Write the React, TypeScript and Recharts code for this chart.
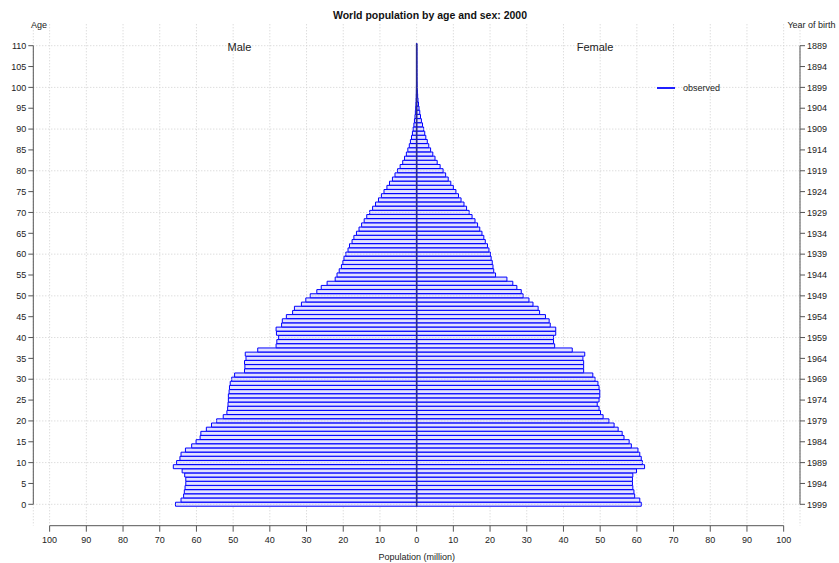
import React from 'react';
import { BarChart, Bar, XAxis, YAxis, CartesianGrid, ReferenceLine, Label } from 'recharts';

// Population in millions, by single year of age (index = age 0..110)
const maleValues = [
  65.7, 64.2, 63.5, 63.3, 63.1, 62.9, 62.9, 63.2, 63.9, 66.3,
  65.4, 64.5, 64.2, 63.0, 61.3, 60.1, 59.0, 58.8, 57.3, 55.9,
  54.5, 52.7, 51.7, 51.5, 51.4, 51.3, 51.3, 51.1, 51.0, 50.8,
  50.4, 49.6, 46.9, 46.8, 46.9, 46.5, 46.7, 43.3, 38.3, 38.1,
  37.6, 38.2, 38.3, 36.8, 36.6, 35.5, 33.8, 33.3, 31.4, 30.2,
  29.0, 27.2, 26.0, 24.4, 22.2, 21.7, 21.1, 20.5, 20.1, 19.8,
  19.3, 18.7, 18.3, 17.6, 17.1, 16.4, 15.7, 15.0, 14.3, 13.6,
  12.8, 12.0, 11.2, 10.4, 9.6, 8.9, 8.1, 7.4, 6.6, 5.9,
  5.2, 4.5, 3.8, 3.3, 2.8, 2.4, 2.0, 1.7, 1.4, 1.15,
  0.95, 0.75, 0.6, 0.45, 0.35, 0.26, 0.19, 0.14, 0.1, 0.07,
  0.05, 0.035, 0.025, 0.018, 0.012, 0.009, 0.006, 0.004, 0.003, 0.002, 0.001,
];

const femaleValues = [
  61.2, 60.8, 59.4, 59.2, 58.9, 58.8, 58.8, 58.9, 59.9, 62.1,
  61.5, 61.2, 60.8, 60.3, 58.5, 57.9, 56.5, 56.0, 54.9, 53.8,
  52.4, 50.8, 50.1, 49.7, 49.2, 49.7, 49.9, 49.9, 49.7, 49.4,
  48.6, 48.0, 45.5, 45.5, 45.5, 45.3, 45.8, 42.4, 37.6, 37.3,
  37.3, 37.9, 37.9, 36.4, 36.1, 35.1, 33.5, 33.1, 31.7, 30.6,
  29.0, 28.5, 27.3, 26.2, 24.6, 21.5, 21.0, 20.8, 20.6, 20.3,
  20.1, 19.7, 19.3, 18.7, 18.3, 17.8, 17.2, 16.6, 15.9, 15.1,
  14.3, 13.6, 12.9, 12.1, 11.4, 10.7, 10.0, 9.3, 8.6, 7.9,
  7.2, 6.4, 5.6, 5.0, 4.4, 3.8, 3.3, 2.9, 2.5, 2.2,
  1.9, 1.6, 1.3, 1.05, 0.85, 0.65, 0.5, 0.37, 0.27, 0.19,
  0.13, 0.09, 0.06, 0.045, 0.03, 0.02, 0.015, 0.01, 0.007, 0.005, 0.003,
];

const ages = maleValues.map((_, i) => i);
const ageTicks = [0, 5, 10, 15, 20, 25, 30, 35, 40, 45, 50, 55, 60, 65, 70, 75, 80, 85, 90, 95, 100, 105, 110];
const gridAges = [0, 10, 20, 30, 40, 50, 60, 70, 80, 90, 100, 110];
const popTicks = [-100, -90, -80, -70, -60, -50, -40, -30, -20, -10, 0, 10, 20, 30, 40, 50, 60, 70, 80, 90, 100];
const censusYear = 2000;

const data = ages.map((age) => ({
  age,
  male: -maleValues[age],
  female: femaleValues[age],
}));

const X_DOMAIN: [number, number] = [-104.45, 104.45];
const AGE_DOMAIN: [number, number] = [-5.13, 115.13];

const FONT = '"Liberation Sans", Arial, Helvetica, sans-serif';
const TEXT = '#222';
const AXIS = '#555';
const GRID = '#cfcfcf';
const BAR_STROKE = '#0000ff';
const BAR_FILL = '#e2e2ff';

const tickStyle = { fontSize: 9, fill: TEXT, fontFamily: FONT };

const abs = (v: number) => String(Math.abs(v));
const birthYear = (a: number) => String(censusYear - 1 - a);

const overlay = (extra: React.CSSProperties): React.CSSProperties => ({
  position: 'absolute',
  whiteSpace: 'nowrap',
  lineHeight: 1,
  fontFamily: FONT,
  color: TEXT,
  ...extra,
});

export default function App() {
  return (
    <div style={{ position: 'absolute', left: 0, top: 0, width: 839, height: 563, background: '#fff' }}>
      <BarChart
        width={839}
        height={563}
        data={data}
        layout="vertical"
        stackOffset="sign"
        barCategoryGap={0}
        margin={{ top: 24.3, right: 0, bottom: 0, left: 0 }}
      >
        <CartesianGrid horizontal={false} vertical stroke={GRID} strokeDasharray="1 2" yAxisId="left" />
        <XAxis
          type="number"
          domain={X_DOMAIN}
          ticks={popTicks}
          allowDataOverflow
          tickFormatter={abs}
          axisLine={false}
          tickLine={{ stroke: AXIS }}
          tickSize={6}
          tickMargin={5}
          tick={tickStyle}
          height={37.3}
          interval={0}
        >
          <Label value="Population (million)" position="insideBottom" offset={3} style={{ fontSize: 9, fill: TEXT, fontFamily: FONT }} />
        </XAxis>
        <YAxis
          yAxisId="left"
          type="number"
          dataKey="age"
          domain={AGE_DOMAIN}
          ticks={ageTicks}
          allowDataOverflow
          reversed
          axisLine={false}
          tickLine={{ stroke: AXIS }}
          tickSize={5}
          tickMargin={2}
          tick={tickStyle}
          width={33.3}
          interval={0}
        />
        <YAxis
          yAxisId="right"
          orientation="right"
          type="number"
          dataKey="age"
          domain={AGE_DOMAIN}
          ticks={ageTicks}
          allowDataOverflow
          reversed
          tickFormatter={birthYear}
          axisLine={false}
          tickLine={{ stroke: AXIS }}
          tickSize={5}
          tickMargin={2}
          tick={tickStyle}
          width={39}
          interval={0}
        />
        {gridAges.map((a) => (
          <ReferenceLine key={`g${a}`} y={a} yAxisId="left" stroke={GRID} strokeDasharray="1 2" />
        ))}
        <Bar
          dataKey="male"
          name="Male"
          stackId="pop"
          yAxisId="left"
          fill={BAR_FILL}
          stroke={BAR_STROKE}
          strokeWidth={1}
          isAnimationActive={false}
        />
        <Bar
          dataKey="female"
          name="Female"
          stackId="pop"
          yAxisId="left"
          fill={BAR_FILL}
          stroke={BAR_STROKE}
          strokeWidth={1}
          isAnimationActive={false}
        />
        <ReferenceLine
          yAxisId="left"
          ifOverflow="visible"
          stroke="#2b2b8a"
          strokeWidth={1.6}
          segment={[{ x: 0, y: -0.5 }, { x: 0, y: 110.5 }]}
        />
        <ReferenceLine
          yAxisId="left"
          ifOverflow="visible"
          stroke={AXIS}
          segment={[{ x: X_DOMAIN[0], y: 0 }, { x: X_DOMAIN[0], y: 110 }]}
        />
        <ReferenceLine
          yAxisId="left"
          ifOverflow="visible"
          stroke={AXIS}
          segment={[{ x: X_DOMAIN[1], y: 0 }, { x: X_DOMAIN[1], y: 110 }]}
        />
        <ReferenceLine
          yAxisId="left"
          ifOverflow="visible"
          stroke={AXIS}
          segment={[{ x: -100, y: AGE_DOMAIN[0] }, { x: 100, y: AGE_DOMAIN[0] }]}
        />
      </BarChart>

      <div style={overlay({ left: 430, top: 15, transform: 'translate(-50%, -50%)', fontSize: 10.5, fontWeight: 'bold', color: '#111' })}>
        World population by age and sex: 2000
      </div>
      <div style={overlay({ left: 39, top: 25, transform: 'translate(-50%, -50%)', fontSize: 9 })}>Age</div>
      <div style={overlay({ left: 811.5, top: 25, transform: 'translate(-50%, -50%)', fontSize: 9 })}>Year of birth</div>
      <div style={overlay({ left: 239.5, top: 47, transform: 'translate(-50%, -50%)', fontSize: 11 })}>Male</div>
      <div style={overlay({ left: 595, top: 47, transform: 'translate(-50%, -50%)', fontSize: 11 })}>Female</div>
      <div style={{ position: 'absolute', left: 657, top: 86.7, width: 18, height: 2, background: '#2020ff' }} />
      <div style={overlay({ left: 683, top: 87.7, transform: 'translateY(-50%)', fontSize: 9 })}>observed</div>
    </div>
  );
}
